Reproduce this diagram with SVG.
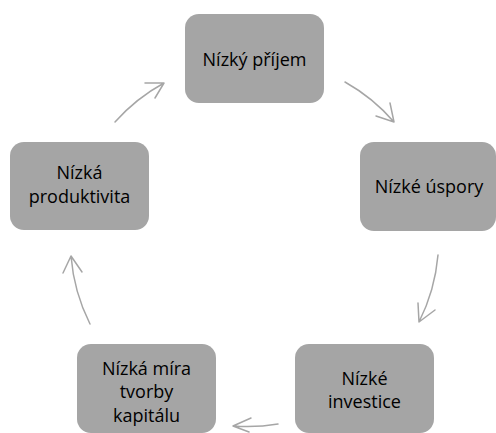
<svg xmlns="http://www.w3.org/2000/svg" width="496" height="433" viewBox="0 0 496 433">
<style>
.box{fill:#a5a5a5;}
.t{font-family:"Open Sans","Noto Sans","Liberation Sans",sans-serif;font-size:18px;fill:#000;text-anchor:middle;}
.c{fill:none;stroke:#a6a6a6;stroke-width:1.5;stroke-linecap:round;stroke-linejoin:round;}
</style>
<rect width="496" height="433" fill="#fff"/>
<g id="connectors">
<path class="c" d="M345,82 A184,184 0 0,1 394,122 M390,103 L394,122 L376,116"/>
<path class="c" d="M438,255 A184,184 0 0,1 419,322 M418,303 L419,322 L435,310"/>
<path class="c" d="M278,424 A184,184 0 0,1 233,426 M251,418 L233,426 L249,432"/>
<path class="c" d="M90,324 A184,184 0 0,1 71,256 M63,273 L71,256 L82,272"/>
<path class="c" d="M115,122 A184,184 0 0,1 164,83 M145,83 L164,83 L155,98"/>
</g>
<g id="node-prijem">
<rect class="box" x="185" y="14" width="139" height="89" rx="14"/>
<text class="t" x="254.5" y="66">Nízký příjem</text>
</g>
<g id="node-uspory">
<rect class="box" x="360" y="142" width="136" height="89" rx="14"/>
<text class="t" x="429" y="193">Nízké úspory</text>
</g>
<g id="node-investice">
<rect class="box" x="295" y="344" width="139" height="89" rx="14"/>
<text class="t" x="364.5" y="385">Nízké</text>
<text class="t" x="364.5" y="408">investice</text>
</g>
<g id="node-kapital">
<rect class="box" x="77" y="344" width="139" height="89" rx="14"/>
<text class="t" x="146.5" y="375">Nízká míra</text>
<text class="t" x="146.5" y="398">tvorby</text>
<text class="t" x="146.5" y="422">kapitálu</text>
</g>
<g id="node-produktivita">
<rect class="box" x="10" y="142" width="139" height="88" rx="14"/>
<text class="t" x="79.5" y="179">Nízká</text>
<text class="t" x="79.5" y="203">produktivita</text>
</g>
</svg>
